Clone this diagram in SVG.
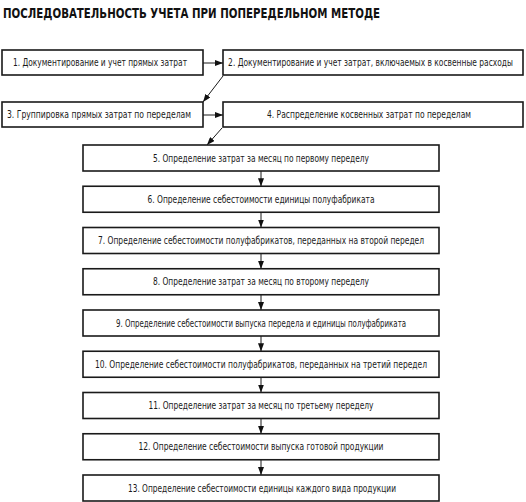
<svg xmlns="http://www.w3.org/2000/svg" width="526" height="502" viewBox="0 0 526 502">
<defs>
<marker id="ah" markerWidth="8" markerHeight="6" refX="8" refY="3" orient="auto" markerUnits="userSpaceOnUse">
<path d="M0,0 L8,3 L0,6 Z" fill="#111"/>
</marker>
<style>
.b{fill:#fff;stroke:#1a1a1a;stroke-width:1.6}
.t{font-family:"Liberation Sans Narrow","DejaVu Sans Condensed","Liberation Sans",sans-serif;font-size:10px;fill:#1a1a1a;text-anchor:middle}
.h{font-family:"Liberation Sans Narrow","DejaVu Sans Condensed","Liberation Sans",sans-serif;font-size:14px;font-weight:bold;fill:#111}
.c{stroke:#1a1a1a;stroke-width:1;fill:none;marker-end:url(#ah)}
</style>
</defs>
<rect width="526" height="502" fill="#fff"/>
<text class="h" x="3" y="18" textLength="377" lengthAdjust="spacingAndGlyphs">ПОСЛЕДОВАТЕЛЬНОСТЬ УЧЕТА ПРИ ПОПЕРЕДЕЛЬНОМ МЕТОДЕ</text>
<g id="connectors">
<line class="c" x1="203" y1="63" x2="223" y2="63"/>
<line class="c" x1="223" y1="76" x2="203" y2="102"/>
<line class="c" x1="203" y1="115" x2="223" y2="115"/>
<line class="c" x1="222" y1="128" x2="207" y2="145"/>
<line class="c" x1="261" y1="171" x2="261" y2="186.25"/>
<line class="c" x1="261" y1="212.25" x2="261" y2="227.5"/>
<line class="c" x1="261" y1="253.5" x2="261" y2="268.75"/>
<line class="c" x1="261" y1="294.75" x2="261" y2="310"/>
<line class="c" x1="261" y1="336" x2="261" y2="351.25"/>
<line class="c" x1="261" y1="377.25" x2="261" y2="392.5"/>
<line class="c" x1="261" y1="418.5" x2="261" y2="433.75"/>
<line class="c" x1="261" y1="459.75" x2="261" y2="475"/>
</g>
<g id="n1"><rect class="b" x="2" y="50" width="201" height="25"/><text class="t" x="100" y="66" textLength="174" lengthAdjust="spacingAndGlyphs">1. Документирование и учет прямых затрат</text></g>
<g id="n2"><rect class="b" x="223" y="50" width="300" height="25"/><text class="t" transform="translate(370.5,66) scale(0.8,1)" x="0" y="0" textLength="356" lengthAdjust="spacingAndGlyphs">2. Документирование и учет затрат, включаемых в косвенные расходы</text></g>
<g id="n3"><rect class="b" x="2" y="102" width="201" height="25"/><text class="t" x="99" y="118" textLength="184" lengthAdjust="spacingAndGlyphs">3. Группировка прямых затрат по переделам</text></g>
<g id="n4"><rect class="b" x="223" y="102" width="300" height="25"/><text class="t" x="369" y="118" textLength="204" lengthAdjust="spacingAndGlyphs">4. Распределение косвенных затрат по переделам</text></g>
<g id="n5"><rect class="b" x="83" y="145" width="356" height="26"/><text class="t" x="261" y="161.5" textLength="216" lengthAdjust="spacingAndGlyphs">5. Определение затрат за месяц по первому переделу</text></g>
<g id="n6"><rect class="b" x="83" y="186.25" width="356" height="26"/><text class="t" x="261" y="202.75" textLength="227" lengthAdjust="spacingAndGlyphs">6. Определение себестоимости единицы полуфабриката</text></g>
<g id="n7"><rect class="b" x="83" y="227.5" width="356" height="26"/><text class="t" x="261" y="244" textLength="326" lengthAdjust="spacingAndGlyphs">7. Определение себестоимости полуфабрикатов, переданных на второй передел</text></g>
<g id="n8"><rect class="b" x="83" y="268.75" width="356" height="26"/><text class="t" x="261" y="285.25" textLength="216" lengthAdjust="spacingAndGlyphs">8. Определение затрат за месяц по второму переделу</text></g>
<g id="n9"><rect class="b" x="83" y="310" width="356" height="26"/><text class="t" x="261" y="326.5" textLength="290" lengthAdjust="spacingAndGlyphs">9. Определение себестоимости выпуска передела и единицы полуфабриката</text></g>
<g id="n10"><rect class="b" x="83" y="351.25" width="356" height="26"/><text class="t" x="261" y="367.75" textLength="332" lengthAdjust="spacingAndGlyphs">10. Определение себестоимости полуфабрикатов, переданных на третий передел</text></g>
<g id="n11"><rect class="b" x="83" y="392.5" width="356" height="26"/><text class="t" x="261" y="409" textLength="225" lengthAdjust="spacingAndGlyphs">11. Определение затрат за месяц по третьему переделу</text></g>
<g id="n12"><rect class="b" x="83" y="433.75" width="356" height="26"/><text class="t" x="261" y="450.25" textLength="245" lengthAdjust="spacingAndGlyphs">12. Определение себестоимости выпуска готовой продукции</text></g>
<g id="n13"><rect class="b" x="83" y="475" width="356" height="26"/><text class="t" x="262" y="491.5" textLength="268" lengthAdjust="spacingAndGlyphs">13. Определение себестоимости единицы каждого вида продукции</text></g>
</svg>
